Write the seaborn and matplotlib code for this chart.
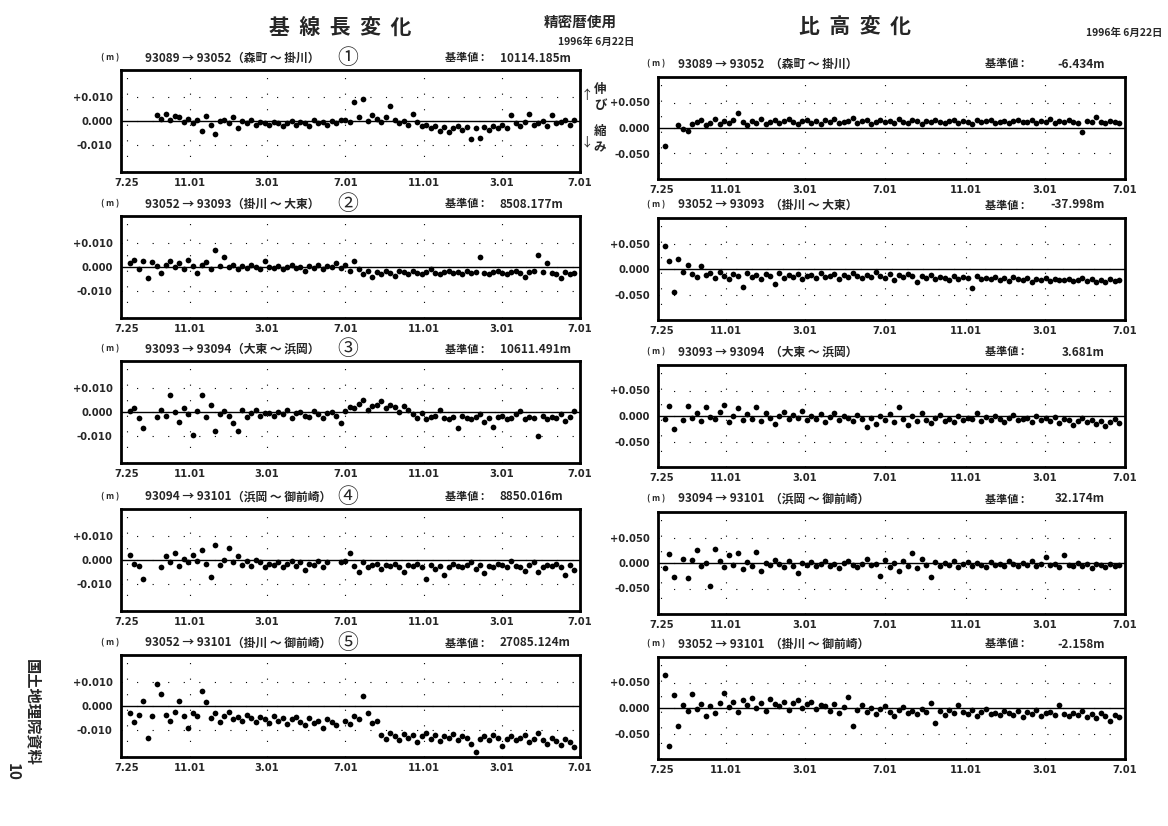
import numpy as np
import pandas as pd
import matplotlib
matplotlib.use("Agg")
import matplotlib.pyplot as plt
import seaborn as sns

nan = np.nan

# observation days, counted from 1994-07-25
days = list(range(5, 700, 7))
tick_days = [0, 99, 219, 341, 464, 585, 707]
tick_labels = ["7.25", "11.01", "3.01", "7.01", "11.01", "3.01", "7.01"]

routes = ["93089 → 93052", "93052 → 93093", "93093 → 93094", "93094 → 93101", "93052 → 93101"]
names = ["（森町 ～ 掛川）", "（掛川 ～ 大東）", "（大東 ～ 浜岡）", "（浜岡 ～ 御前崎）", "（掛川 ～ 御前崎）"]
marks = ["①", "②", "③", "④", "⑤"]
base_len = ["10114.185m", "8508.177m", "10611.491m", "8850.016m", "27085.124m"]
base_hgt = ["-6.434m", "-37.998m", "3.681m", "32.174m", "-2.158m"]

# baseline length change (mm)
len_1 = [nan, nan, nan, nan, nan, nan,
         2.5, 1, 3, 0.5, 2, 1.5, -0.5,
         1, -1, 0.5, -4, 2, -1.5, -5.5, 0,
         0.5, -1, 1.5, -3, 0, -1, 0.5, -1.5, -0.5, -1,
         -1.5, -0.5, -1, -2, -1, 0, -1.5, -0.5, -1, -2, 0.5, -1, -0.5, -1.5, 0, -1, 0.5,
         0.5, -0.5, 8, 1.5, 9, 0, 2.5, 1, -0.5, 1.5, 6,
         0.5, -1, 0, -1.5, 3, -0.5, -2,
         -1.5, -3, -2, -4, -2.5, -4.5, -3, -2, -3.5, -2.5, -7.5, -3, -7, -2.5, -3.5, -2, -3,
         -1.5, -3, 2.5, -1, -2, -0.5, 3, -1.5, -1, 0, -2, 2.5, -1, -0.5, 0.5, -1.5, 0.5]
len_2 = [1.5, 3, -1, 2.5, -4.5, 2, 0.5, -2.5,
         1, 2.5, 0, 1.5, -1, 3, 0.5, -2.5, 1, 2, -1, 7, 0.5,
         4, 0, 1, -1, 0.5, -0.5, 1, 0, -1, 2.5, 0, -0.5, 0.5, -1, 0, 1, -0.5, 0, -1.5, 0.5,
         -0.5, 1, -1, 0.5, 0, 1.5, -0.5,
         1, -1.5, 2.5, -1, -3, -1.5, -4, -2, -3, -1.5, -2.5, -3.5, -1.5,
         -2, -3, -1.5, -2.5, -3, -2, -1, -2.5, -3, -2, -1.5, -2.5, -2, -3, -1.5, -2.5, -2, 4,
         -2.5, -3, -2, -1.5, -2.5, -3, -2, -1.5, -2.5, -4, -2, -1.5, 5, -2, 1.5, -2.5, -3,
         -4.5, -2, -3, -2.5]
len_3 = [0.5, 1.5, -2.5, -6.5, nan, nan,
         -2, 1, -1.5, 7, 0, -4, 1.5, -1, -9.5, 0.5, 7, -2, 3, -8, -1, 0.5, -1.5, -4.5, -8,
         1, -2, -0.5, 1, -1.5, -0.5,
         -0.5, -1.5, 0, -1, 1, -2.5, -0.5, 0, -1.5, -2, 0.5, -1, -2.5, -0.5, 0, -1.5, -4.5,
         0.5, 2, 1.5, 3.5, 5, 1, 2.5, 3, 4.5, 1.5, 3, 2, 0, 2.5, 1,
         -1, -2.5, -0.5, -3, -2, -1.5, 1, -2.5, -3, -2, -6.5, -1.5, -2.5, -3, -2, -1, -4,
         -2.5, -6, -2, -1.5, -3, -2.5, -1, 0.5, -3, -2, -2.5, -10, -1.5, -3, -2, -2.5, -1,
         -3.5, -2, 0.5]
len_4 = [2, -1.5, -2.5, -8, nan, nan, nan,
         -3, 1.5, -1, 3, -2.5, 0.5, -1, 2, -0.5, 4, -1.5, -7, 6, -2, 0, 5, -1, 1.5, -2,
         -0.5, -2.5, 0, -1, -3, -1.5,
         -2, -1, -3, -1.5, -0.5, -2.5, -1, -4, -1.5, -2, -0.5, -3, -1, nan, nan, -1,
         -0.5, 3, -2.5, -5, -1, -3, -2, -1.5, -3.5, -2, -2.5, -1.5, -3, -5, -2, -2.5, -1.5,
         -3, -8, -2, -3.5, -2.5, -6, -3, -1.5, -2.5, -3, -2, -1, -3.5, -2, -5.5, -2.5, -3,
         -1.5, -2, -3, -0.5, -2.5, -3, -4.5, -2, -1, -5, -3, -2, -2.5, -1.5, -3, -6, -2, -4]
len_5 = [-3, -6.5, -3.5, 2, -13, -4, 9, 5, -3.5, -6, -2.5, 2, -4, -9, -3,
         -4, 6, 1.5, -5, -3, -6.5, -4, -2.5, -5.5, -4.5, -6, -3.5, -5, -6.5, -4.5, -5.5, -7,
         -4, -6, -5, -7.5, -5.5, -4.5, -6.5, -8, -5, -7, -6, -9, -5.5, -6.5, -8, nan,
         -6, -7.5, -4, -5.5, 4, -3, -7, -6,
         -12, -13.5, -11, -12.5, -14, -11.5, -13, -12, -15, -12.5, -11, -13.5, -12, -14.5,
         -12.5, -13, -11.5, -14, -12.5, -13, -15.5, -19, -13.5, -12.5, -14, -12, -13, -16.5,
         -13.5, -12.5, -14, -13, -12, -15, -13.5, -11, -14, -15.5, -13, -14.5, -16, -13.5,
         -15, -17]

# relative height change (mm)
hgt_1 = [-35, nan, nan,
         5, -2, -5, 8, 12, 15, 5, 10, 18, 7, 13, 9, 16, 30, 12, 6, 14, 10, 17, 8, 12, 15, 9,
         13, 18, 11, 7, 14, 16, 10, 13, 8, 15, 12, 17, 9, 11, 14, 20, 10, 13, 16, 8, 12, 15,
         11, 14, 9, 17, 12, 10, 15, 13, 8, 14, 11, 16, 12, 9, 13, 15, 10, 14, 12, 8, 16, 11,
         13, 15, 10, 12, 14, 9, 13, 16, 11, 12, 15, 10, 14, 12, 17, 9, 13, 11, 15, 12, 10,
         -8, 14, 12, 22, 11, 9, 14, 12, 10]
hgt_2 = [45, 15, -45, 20, -5, 8,
         -10, -15, 5, -12, -8, -18, -5, -14, -20, -9, -13, -35, -7, -16, -11, -19, -10, -14,
         -30, -8, -17, -12, -15, -9, -20, -13, -11, -18, -7, -15, -14, -10, -19, -12, -16,
         -8, -13, -17, -11, -15, -5, -14, -18, -10, -22, -12, -16, -9, -14, -25, -13, -18,
         -11, -20, -15, -17, -21, -13, -19, -16, -18, -38, -14, -20, -17, -19, -15, -21, -18,
         -24, -16, -20, -22, -17, -25, -19, -21, -18, -23, -20, -22, -22, -19, -24, -21, -18,
         -23, -20, -26, -22, -25, -19, -24, -21]
hgt_3 = [-5, 20, -25, nan,
         -8, 20, -3, 5, -10, 18, -2, -6, 8, 22, -12, 0, 15, -8, 3, -5, 18, -10, 5, -3, -15,
         0, 8, -6, 2, -4, 10, -8, 0, -5, 3, -12, -2, 5, -7, 0, -3, -10, 2, -6, -22, -4, -15,
         0, -8, 3, -12, 18, -5, -18, 0, -10, 5, -7, -14, -3, 2, -10, -5, -12, 0, -8, -3, -6,
         5, -10, -2, -7, 0, -5, -12, -3, 2, -8, -6, -4, -11, 0, -7, -3, -9, -2, -14, -6, -8,
         -18, -10, -4, -12, -7, -15, -9, -20, -11, -6, -13]
hgt_4 = [-10, 18, -28, nan,
         8, -30, 5, 25, -5, 0, -45, 27, 3, -8, 15, -3, 20, -12, 2, -6, 22, -15, 0, -4, 5, -2,
         -8, 3, -5, -20, 0, -3, 2, -6, -1, 4, -5, -2, -10, 0, 3, -4, -7, -1, 8, -3, -2, -25,
         5, -8, 0, -15, 3, -5, 20, -10, 8, -3, -28, 2, -6, 0, -4, 3, -7, -2, 1, -5, 0, -3, -8,
         2, -4, -1, -6, 3, -2, -5, 0, -3, 4, -6, -1, 12, -4, -2, -8, 15, -3, -6, 0, -5, -2,
         -9, -1, -4, -7, -2, -5, -3]
hgt_5 = [65, -75, 25, -35, 5,
         -5, 28, -2, 8, -15, 3, -10, 10, 30, 2, 12, -8, 15, 5, 20, 0, 10, -5, 18, 8, 3, 12,
         -3, 9, 15, 0, 7, 11, -2, 6, 4, -6, 8, -10, 2, 22, -35, -4, 5, -8, 0, -12, -2, 3, -7,
         -15, -3, 1, -9, -5, -12, -2, -8, 10, -30, -6, -14, -3, -10, 5, -8, -12, -4, -16, -7,
         -2, -11, -9, -14, -5, -10, -13, -6, -18, -8, -12, -4, -15, -10, -7, -13, 5, -11, -16,
         -9, -14, -6, -18, -12, -20, -10, -15, -25, -13, -17]

len_series = [len_1, len_2, len_3, len_4, len_5]
hgt_series = [hgt_1, hgt_2, hgt_3, hgt_4, hgt_5]

sns.set_style("white")
plt.rcParams['font.family'] = ['Noto Sans CJK JP', 'DejaVu Sans']

W, H = 1168, 826
fig = plt.figure(figsize=(W / 100, H / 100), dpi=100)


def fx(x):
    return x / W


def fy(y):
    return 1 - y / H


def make_axes(x0, width, top, bottom):
    return fig.add_axes([fx(x0), fy(bottom), width / W, (bottom - top) / H])


def style_axes(ax, xmin, lim, ticks, labels):
    ax.set_xlim(xmin, 707)
    ax.set_ylim(-lim, lim)
    ax.axhline(0, color="black", lw=1.0, zorder=1)
    ax.set_xticks(tick_days)
    ax.set_xticklabels(tick_labels)
    ax.set_yticks(ticks)
    ax.set_yticklabels(labels)
    ax.tick_params(axis="y", length=0, labelsize=7.2, pad=6)
    ax.tick_params(axis="x", length=0, labelsize=7.2, pad=4)
    for lab in ax.get_xticklabels() + ax.get_yticklabels():
        lab.set_fontweight("bold")
        lab.set_family("DejaVu Sans")
    ax.grid(True, color="black", lw=0.8, linestyle=(0, (1, 13)))
    for sp in ax.spines.values():
        sp.set_linewidth(2)
        sp.set_color("black")
    ax.set_xlabel("")
    ax.set_ylabel("")


left_tops = [70, 216, 361, 509, 655]
right_tops = [77, 218, 365, 512, 657]

for k in range(5):
    # left column: baseline length
    top = left_tops[k]
    ax = make_axes(121, 459, top, top + 102)
    df = pd.DataFrame({"day": days, "val": np.array(len_series[k], dtype=float) / 1000})
    sns.scatterplot(data=df, x="day", y="val", ax=ax, color="black", s=17,
                    linewidth=0, legend=False, zorder=3)
    style_axes(ax, -9, 0.021, [0.01, 0.0, -0.01], ["+0.010", "0.000", "-0.010"])
    hy = fy(top - 12)
    fig.text(fx(110), hy, "( m )", fontsize=6, ha="center", va="center", weight="bold")
    fig.text(fx(145), hy, routes[k], fontsize=8.5, ha="left", va="center", weight="bold")
    fig.text(fx(232), hy, names[k], fontsize=8.5, ha="left", va="center", weight="bold")
    fig.text(fx(348), hy, marks[k], fontsize=15, ha="center", va="center")
    fig.text(fx(445), hy, "基準値 :", fontsize=8, ha="left", va="center", weight="bold")
    fig.text(fx(500), hy, base_len[k], fontsize=8.5, ha="left", va="center", weight="bold")

    # right column: relative height
    top = right_tops[k]
    ax = make_axes(658, 467, top, top + 102)
    df = pd.DataFrame({"day": days, "val": np.array(hgt_series[k], dtype=float) / 1000})
    sns.scatterplot(data=df, x="day", y="val", ax=ax, color="black", s=17,
                    linewidth=0, legend=False, zorder=3)
    style_axes(ax, -5, 0.1, [0.05, 0.0, -0.05], ["+0.050", "0.000", "-0.050"])
    hy = fy(top - 13)
    fig.text(fx(656), hy, "( m )", fontsize=6, ha="center", va="center", weight="bold")
    fig.text(fx(678), hy, routes[k], fontsize=8.5, ha="left", va="center", weight="bold")
    fig.text(fx(770), hy, names[k], fontsize=8.5, ha="left", va="center", weight="bold")
    fig.text(fx(985), hy, "基準値 :", fontsize=8, ha="left", va="center", weight="bold")
    fig.text(fx(1105), hy, base_hgt[k], fontsize=8.5, ha="right", va="center", weight="bold")

# titles
fig.text(fx(340), fy(27), "基  線  長  変  化", fontsize=15, ha="center", va="center", weight="bold")
fig.text(fx(580), fy(22), "精密暦使用", fontsize=10.5, ha="center", va="center", weight="bold")
fig.text(fx(634), fy(42), "1996年 6月22日", fontsize=7.5, ha="right", va="center", weight="bold")
fig.text(fx(855), fy(27), "比  高  変  化", fontsize=15, ha="center", va="center", weight="bold")
fig.text(fx(1162), fy(33), "1996年 6月22日", fontsize=7.5, ha="right", va="center", weight="bold")

# stretch / shrink marks
fig.text(fx(587), fy(95), "↑", fontsize=9, ha="center", va="center")
fig.text(fx(600), fy(89), "伸", fontsize=9, ha="center", va="center", weight="bold")
fig.text(fx(600), fy(106), "び", fontsize=9, ha="center", va="center", weight="bold")
fig.text(fx(587), fy(142), "↓", fontsize=9, ha="center", va="center")
fig.text(fx(600), fy(131), "縮", fontsize=9, ha="center", va="center", weight="bold")
fig.text(fx(600), fy(148), "み", fontsize=9, ha="center", va="center", weight="bold")

# side label
fig.text(fx(32), fy(712), "国土地理院資料", fontsize=11, rotation=-90, ha="center",
         va="center", weight="bold")
fig.text(fx(13), fy(772), "10", fontsize=11, rotation=-90, ha="center", va="center",
         weight="bold")

fig.savefig("out.png", dpi=100)
